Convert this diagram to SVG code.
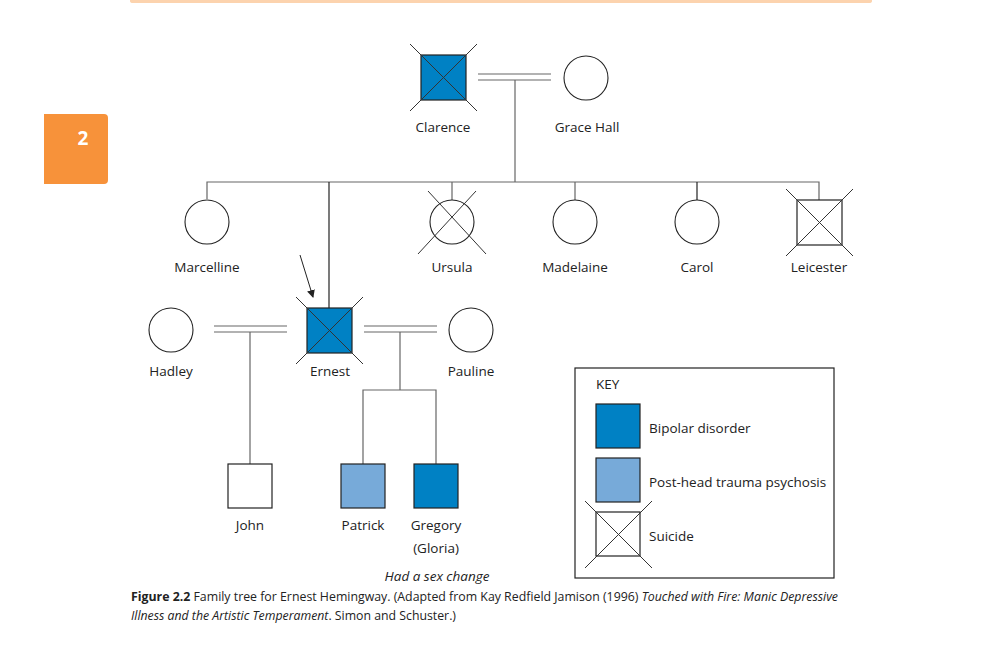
<svg xmlns="http://www.w3.org/2000/svg" width="1001" height="647" viewBox="0 0 1001 647">
<style>
text{font-family:"Open Sans","Noto Sans","Liberation Sans",sans-serif;fill:#222}
.lbl{font-size:13.5px;text-anchor:middle}
.sq{stroke:#222;stroke-width:1.2}
.circ{fill:#fff;stroke:#222;stroke-width:1.1}
.x{stroke:#333;stroke-width:1}
.c{stroke:#666;stroke-width:1.2;fill:none}
.bp{fill:#0081c4}
.pt{fill:#77aad9}
.cap{font-size:12px}
</style>
<defs>
<marker id="ah" markerWidth="8" markerHeight="8" refX="7" refY="4" orient="auto" markerUnits="userSpaceOnUse">
<path d="M0,0 L8,4 L0,8 Z" fill="#222"/>
</marker>
</defs>
<rect width="1001" height="647" fill="#fff"/>
<path d="M130,0 H872 V1 Q872,3 869,3 H133 Q130,3 130,1 Z" fill="#fcd3ae"/>
<g id="tab">
<path d="M44,114 H104 Q108,114 108,118 V180 Q108,184 104,184 H44 Z" fill="#f7923a"/>
<text x="83" y="145" font-size="19" font-weight="bold" text-anchor="middle" style="fill:#fff">2</text>
</g>
<g id="connectors">
<line class="c" x1="478" y1="74" x2="551" y2="74"/>
<line class="c" x1="478" y1="80" x2="551" y2="80"/>
<line class="c" x1="515" y1="80" x2="515" y2="182"/>
<polyline class="c" points="207,199 207,182 819,182 819,200"/>
<line class="c" x1="329" y1="182" x2="329" y2="308" style="stroke:#222"/>
<line class="c" x1="452" y1="182" x2="452" y2="200"/>
<line class="c" x1="575" y1="182" x2="575" y2="200"/>
<line class="c" x1="697" y1="182" x2="697" y2="200" style="stroke:#222"/>
<line class="c" x1="214" y1="326" x2="287" y2="326"/>
<line class="c" x1="214" y1="332" x2="287" y2="332"/>
<line class="c" x1="250" y1="332" x2="250" y2="464"/>
<line class="c" x1="364" y1="326" x2="437" y2="326"/>
<line class="c" x1="364" y1="332" x2="437" y2="332"/>
<line class="c" x1="400" y1="332" x2="400" y2="390"/>
<polyline class="c" points="363,464 363,390 436,390 436,464"/>
<line x1="300" y1="255" x2="313" y2="297" stroke="#222" stroke-width="1" marker-end="url(#ah)"/>
</g>
<g id="clarence">
<rect class="sq bp" x="421" y="55" width="45" height="45"/>
<line class="x" x1="410" y1="44" x2="477" y2="111"/>
<line class="x" x1="477" y1="44" x2="410" y2="111"/>
<text class="lbl" x="443" y="132">Clarence</text>
</g>
<g id="grace">
<circle class="circ" cx="586" cy="78" r="22"/>
<text class="lbl" x="587" y="132">Grace Hall</text>
</g>
<g id="marcelline">
<circle class="circ" cx="207" cy="222" r="22"/>
<text class="lbl" x="207" y="272">Marcelline</text>
</g>
<g id="ursula">
<circle class="circ" cx="452" cy="222" r="22"/>
<line class="x" x1="428" y1="191" x2="486" y2="254"/>
<line class="x" x1="476" y1="191" x2="418" y2="254"/>
<text class="lbl" x="452" y="272">Ursula</text>
</g>
<g id="madelaine">
<circle class="circ" cx="575" cy="222" r="22"/>
<text class="lbl" x="575" y="272">Madelaine</text>
</g>
<g id="carol">
<circle class="circ" cx="697" cy="222" r="22"/>
<text class="lbl" x="697" y="272">Carol</text>
</g>
<g id="leicester">
<rect class="sq" x="797" y="200" width="45" height="45" fill="#fff"/>
<line class="x" x1="786" y1="189" x2="853" y2="256"/>
<line class="x" x1="853" y1="189" x2="786" y2="256"/>
<text class="lbl" x="819" y="272">Leicester</text>
</g>
<g id="hadley">
<circle class="circ" cx="171" cy="330" r="22"/>
<text class="lbl" x="171" y="376">Hadley</text>
</g>
<g id="ernest">
<rect class="sq bp" x="307" y="308" width="45" height="45"/>
<line class="x" x1="296" y1="297" x2="363" y2="364"/>
<line class="x" x1="363" y1="297" x2="296" y2="364"/>
<text class="lbl" x="330" y="376">Ernest</text>
</g>
<g id="pauline">
<circle class="circ" cx="471" cy="330" r="22"/>
<text class="lbl" x="471" y="376">Pauline</text>
</g>
<g id="john">
<rect class="sq" x="228" y="464" width="44" height="44" fill="#fff"/>
<text class="lbl" x="250" y="530">John</text>
</g>
<g id="patrick">
<rect class="sq pt" x="341" y="464" width="44" height="44"/>
<text class="lbl" x="363" y="530">Patrick</text>
</g>
<g id="gregory">
<rect class="sq bp" x="414" y="464" width="44" height="44"/>
<text class="lbl" x="436" y="530">Gregory</text>
<text class="lbl" x="436" y="553">(Gloria)</text>
<text class="lbl" x="437" y="581" font-style="italic">Had a sex change</text>
</g>
<g id="key">
<rect x="575" y="368" width="259" height="210" fill="#fff" stroke="#222" stroke-width="1.2"/>
<text x="596" y="389" font-size="13.5">KEY</text>
<rect class="sq bp" x="596" y="404" width="44" height="44"/>
<text x="649" y="433" font-size="13.5">Bipolar disorder</text>
<rect class="sq pt" x="596" y="458" width="44" height="44"/>
<text x="649" y="487" font-size="13.5">Post-head trauma psychosis</text>
<rect class="sq" x="596" y="512" width="44" height="44" fill="#fff"/>
<line class="x" x1="585" y1="501" x2="652" y2="568"/>
<line class="x" x1="652" y1="501" x2="585" y2="568"/>
<text x="649" y="541" font-size="13.5">Suicide</text>
</g>
<g id="caption">
<text class="cap" x="131" y="601" textLength="707" lengthAdjust="spacingAndGlyphs"><tspan font-weight="bold">Figure 2.2</tspan>  Family tree for Ernest Hemingway. (Adapted from Kay Redfield Jamison (1996) <tspan font-style="italic">Touched with Fire: Manic Depressive</tspan></text>
<text class="cap" x="131" y="620" textLength="325" lengthAdjust="spacingAndGlyphs"><tspan font-style="italic">Illness and the Artistic Temperament</tspan>. Simon and Schuster.)</text>
</g>
</svg>
